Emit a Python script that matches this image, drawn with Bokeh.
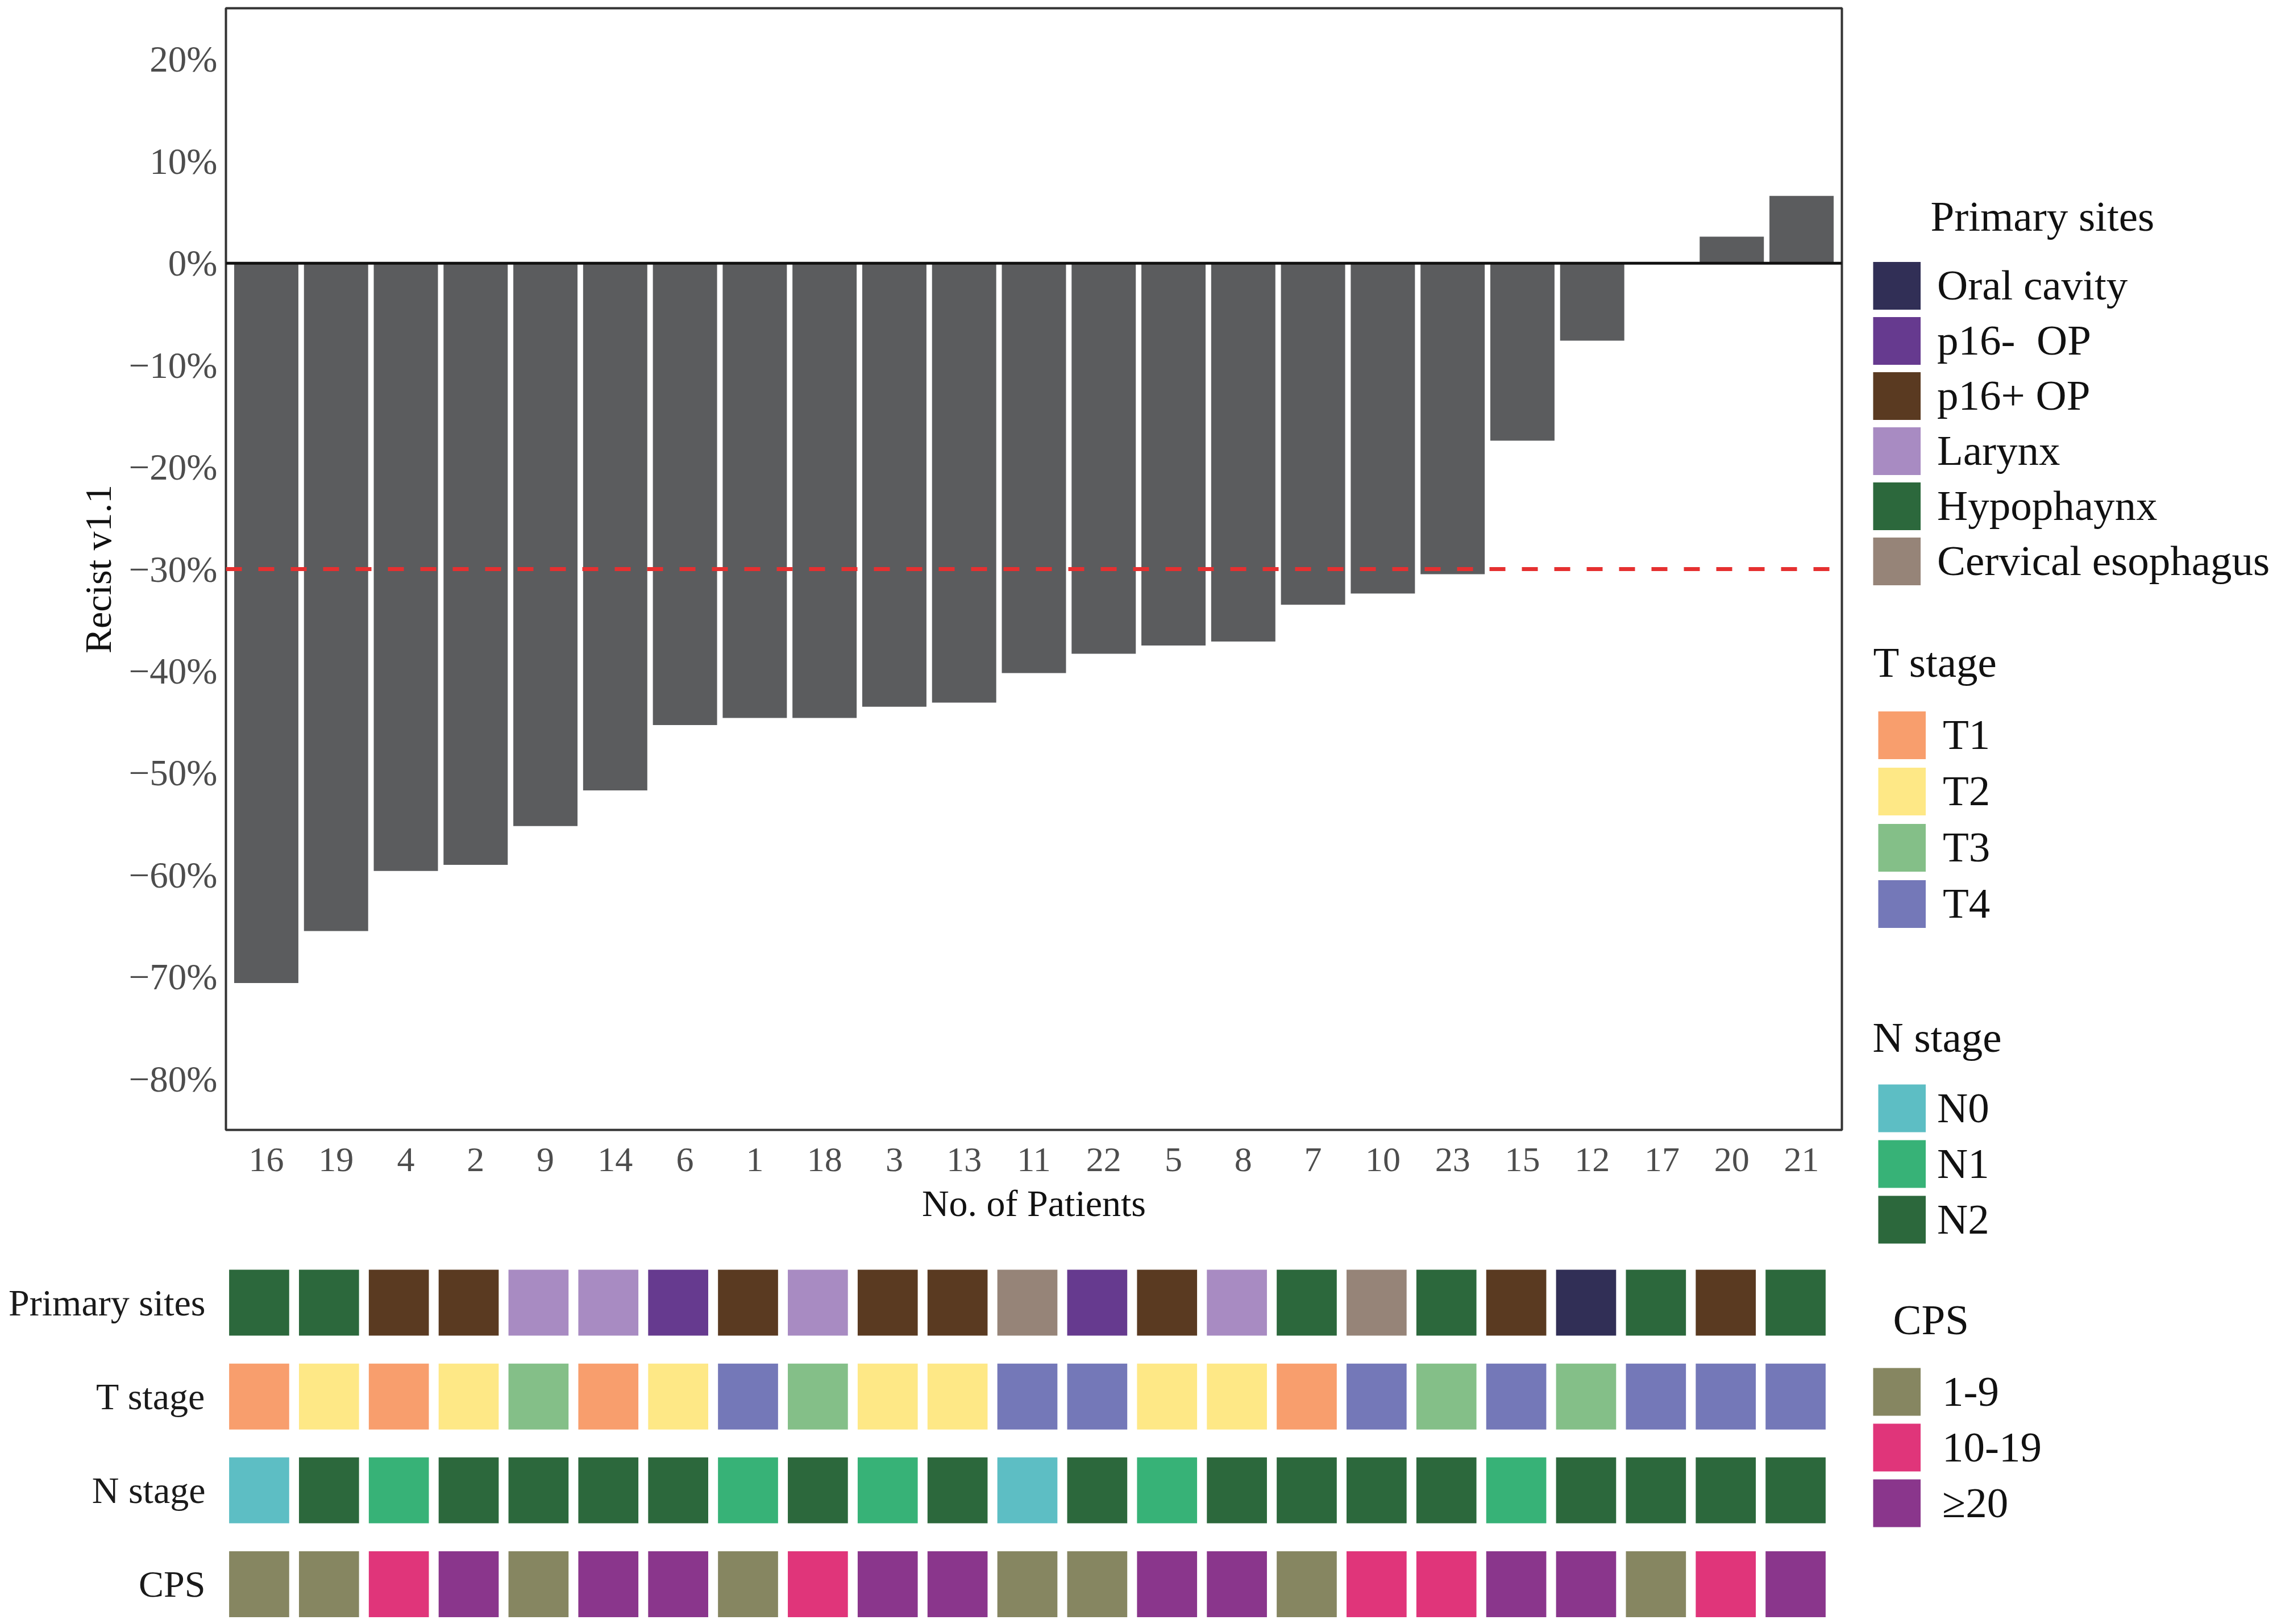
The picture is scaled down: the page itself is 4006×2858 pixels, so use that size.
import numpy as np
from bokeh.plotting import figure
from bokeh.models import (FactorRange, Range1d, Span, FixedTicker, Legend, LegendItem,
                          Label, ColumnDataSource)
from bokeh.layouts import row, column
from bokeh.embed import file_html
from bokeh.resources import INLINE

# ---------------- data ----------------
patients = ["16", "19", "4", "2", "9", "14", "6", "1", "18", "3", "13", "11",
            "22", "5", "8", "7", "10", "23", "15", "12", "17", "20", "21"]
recist = [-70.6, -65.5, -59.6, -59.0, -55.2, -51.7, -45.3, -44.6, -44.6, -43.5,
          -43.1, -40.2, -38.3, -37.5, -37.1, -33.5, -32.4, -30.5, -17.4, -7.6,
          0.0, 2.6, 6.6]
threshold = -30

y_ticks = [-80, -70, -60, -50, -40, -30, -20, -10, 0, 10, 20]
y_tick_labels = ["\u221280%", "\u221270%", "\u221260%", "\u221250%", "\u221240%",
                 "\u221230%", "\u221220%", "\u221210%", "0%", "10%", "20%"]

site_names = ["Oral cavity", "p16-  OP", "p16+ OP", "Larynx", "Hypophaynx",
              "Cervical esophagus"]
site_colors = ["#312f56", "#663a8f", "#5a3a21", "#a88bc2", "#2c683c", "#968478"]
t_names = ["T1", "T2", "T3", "T4"]
t_colors = ["#f89e6d", "#fee886", "#84bf88", "#7478b8"]
n_names = ["N0", "N1", "N2"]
n_colors = ["#5dbec4", "#37b277", "#2c683c"]
cps_names = ["1-9", "10-19", "\u226520"]
cps_colors = ["#868661", "#e0357a", "#8a368c"]

site = ["Hypophaynx", "Hypophaynx", "p16+ OP", "p16+ OP", "Larynx", "Larynx",
        "p16-  OP", "p16+ OP", "Larynx", "p16+ OP", "p16+ OP", "Cervical esophagus",
        "p16-  OP", "p16+ OP", "Larynx", "Hypophaynx", "Cervical esophagus",
        "Hypophaynx", "p16+ OP", "Oral cavity", "Hypophaynx", "p16+ OP", "Hypophaynx"]
t_stage = ["T1", "T2", "T1", "T2", "T3", "T1", "T2", "T4", "T3", "T2", "T2", "T4",
           "T4", "T2", "T2", "T1", "T4", "T3", "T4", "T3", "T4", "T4", "T4"]
n_stage = ["N0", "N2", "N1", "N2", "N2", "N2", "N2", "N1", "N2", "N1", "N2", "N0",
           "N2", "N1", "N2", "N2", "N2", "N2", "N1", "N2", "N2", "N2", "N2"]
cps = ["1-9", "1-9", "10-19", "\u226520", "1-9", "\u226520", "\u226520", "1-9",
       "10-19", "\u226520", "\u226520", "1-9", "1-9", "\u226520", "\u226520", "1-9",
       "10-19", "10-19", "\u226520", "\u226520", "1-9", "10-19", "\u226520"]

row_names = ["Primary sites", "T stage", "N stage", "CPS"]

FONT = "Liberation Serif"
LEFT_W = 3250
TOTAL_H = 2850
F1_H = 2203

# ---------------- waterfall ----------------
f1 = figure(x_range=FactorRange(factors=patients, range_padding=0.078,
                                range_padding_units="absolute"),
            y_range=Range1d(-85, 25), width=LEFT_W, height=F1_H,
            output_backend="svg", toolbar_location=None, frame_align=False,
            min_border_left=397, min_border_right=10, min_border_top=14,
            min_border_bottom=F1_H - 14 - 1974, background_fill_color="white",
            border_fill_color="white")
f1.vbar(x=patients, top=recist, bottom=0, width=0.92, fill_color="#5b5c5e",
        line_color=None)
f1.add_layout(Span(location=0, dimension="width", line_color="#111111", line_width=5))
f1.add_layout(Span(location=threshold, dimension="width", line_color="#e53030",
                   line_width=7, line_dash="28 29"))
f1.xgrid.visible = False
f1.ygrid.visible = False
f1.outline_line_color = "#333333"
f1.outline_line_width = 4
f1.outline_line_alpha = 1

ya = f1.yaxis[0]
ya.ticker = FixedTicker(ticks=y_ticks)
ya.major_label_overrides = dict(zip(y_ticks, y_tick_labels))
ya.axis_label = "Recist v1.1"
xa = f1.xaxis[0]
xa.axis_label = "No. of Patients"
for ax in (xa, ya):
    ax.axis_line_color = None
    ax.major_tick_line_color = None
    ax.minor_tick_line_color = None
    ax.major_tick_out = 0
    ax.major_tick_in = 0
    ax.major_label_text_font = FONT
    ax.major_label_text_color = "#4d4d4d"
    ax.axis_label_text_font = FONT
    ax.axis_label_text_font_style = "normal"
    ax.axis_label_text_color = "#111111"
    ax.axis_label_text_font_size = "66px"
ya.major_label_text_font_size = "65px"
ya.major_label_standoff = 15
ya.axis_label_standoff = 15
xa.major_label_text_font_size = "62px"
xa.major_label_standoff = 32
xa.axis_label_standoff = 17

# ---------------- annotation heatmap ----------------
cat_rows = [(site, site_names, site_colors), (t_stage, t_names, t_colors),
            (n_stage, n_names, n_colors), (cps, cps_names, cps_colors)]
hx, hy, hc = [], [], []
for i, (vals, names, cols) in enumerate(cat_rows):
    cmap = dict(zip(names, cols))
    for p, v in zip(patients, vals):
        hx.append(p)
        hy.append(len(cat_rows) - i)
        hc.append(cmap[v])
hsrc = ColumnDataSource(dict(x=hx, y=hy, color=hc))

f2 = figure(x_range=FactorRange(factors=patients), y_range=Range1d(0.621, 4.497),
            width=LEFT_W, height=TOTAL_H - F1_H, output_backend="svg",
            toolbar_location=None, frame_align=False,
            min_border_left=394, min_border_right=LEFT_W - 394 - 2826,
            min_border_top=2210 - F1_H, min_border_bottom=0, x_axis_location=None)
f2.rect(x="x", y="y", width=0.86, height=0.703, fill_color="color",
        line_color=None, source=hsrc)
f2.xgrid.visible = False
f2.ygrid.visible = False
f2.outline_line_color = None
row_ticks = [len(row_names) - i for i in range(len(row_names))]
hya = f2.yaxis[0]
hya.ticker = FixedTicker(ticks=row_ticks)
hya.major_label_overrides = dict(zip(row_ticks, row_names))
hya.axis_line_color = None
hya.major_tick_line_color = None
hya.minor_tick_line_color = None
hya.major_tick_out = 0
hya.major_tick_in = 0
hya.major_label_standoff = 33
hya.major_label_text_font = FONT
hya.major_label_text_font_size = "66px"
hya.major_label_text_color = "#1a1a1a"

# ---------------- legends ----------------
f3 = figure(x_range=Range1d(0, 1), y_range=Range1d(0, 1), width=748, height=TOTAL_H,
            output_backend="svg", toolbar_location=None, min_border=0,
            x_axis_location=None, y_axis_location=None)
f3.xgrid.visible = False
f3.ygrid.visible = False
f3.outline_line_color = None

SW = 84  # swatch size in px
legend_specs = [
    # title, names, colours, location, item pitch, label standoff, title position
    ("Primary sites", site_names, site_colors, (45, 1814.5), 97, 29, (146, 2470)),
    ("T stage", t_names, t_colors, (54, 1210.5), 99, 30, (45, 1685)),
    ("N stage", n_names, n_colors, (54, 655), 98, 20, (44, 1025)),
    ("CPS", cps_names, cps_colors, (45, 156), 98, 38, (80, 528)),
]
for title, names, cols, loc, pitch, standoff, tpos in legend_specs:
    items = []
    for nm, c in zip(names, cols):
        r = f3.line(x=np.array([np.nan]), y=np.array([np.nan]), line_color=c,
                    line_width=SW, line_cap="butt")
        items.append(LegendItem(label=nm, renderers=[r]))
    lg = Legend(items=items, location=loc, orientation="vertical",
                glyph_width=SW, glyph_height=pitch, label_height=20,
                spacing=0, label_standoff=standoff, padding=0, margin=0,
                border_line_color=None, background_fill_alpha=0,
                label_text_font=FONT, label_text_font_size="75px",
                label_text_color="#111111")
    f3.add_layout(lg)
    f3.add_layout(Label(x=tpos[0], y=tpos[1], x_units="screen", y_units="screen",
                        text=title, text_font=FONT, text_font_size="75px",
                        text_color="#111111", text_baseline="middle",
                        text_align="left"))

layout = row(column(f1, f2), f3)
open("out.html", "w").write(file_html(layout, INLINE, "waterfall"))
